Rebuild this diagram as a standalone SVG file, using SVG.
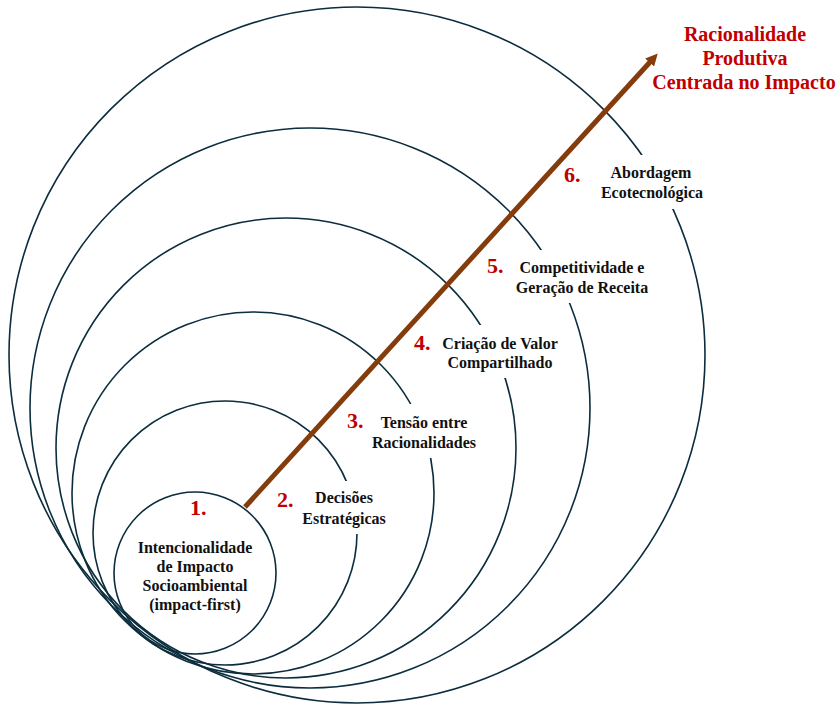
<svg xmlns="http://www.w3.org/2000/svg" width="838" height="704" viewBox="0 0 838 704">
<style>
.ring{fill:none;stroke:#0B2D3E;stroke-width:1.6}
.bg{fill:#ffffff}
.lbl{font-family:"Liberation Serif","Times New Roman",serif;font-weight:bold;font-size:16px;fill:#111111;text-anchor:middle}
.num{font-family:"Liberation Serif","Times New Roman",serif;font-weight:bold;font-size:22px;fill:#C00000}
.title{font-family:"Liberation Serif","Times New Roman",serif;font-weight:bold;font-size:20px;fill:#C00000;text-anchor:middle}
</style>
<defs>
<marker id="ah" viewBox="0 0 12 12" refX="2" refY="6" markerWidth="12" markerHeight="12" markerUnits="userSpaceOnUse" orient="auto">
<path d="M0,0 L12,6 L0,12 z" fill="#843C0C"/>
</marker>
</defs>
<rect width="838" height="704" fill="#ffffff"/>
<g id="rings">
<circle class="ring" cx="357" cy="355" r="348"/>
<circle class="ring" cx="310" cy="408" r="280"/>
<circle class="ring" cx="286" cy="448" r="230"/>
<circle class="ring" cx="253" cy="493" r="181"/>
<circle class="ring" cx="225" cy="533" r="132"/>
</g>
<g id="node1">
<circle class="ring" cx="195" cy="573" r="81"/>
<text class="num" x="190" y="515">1.</text>
<text class="lbl" x="195" y="553">Intencionalidade</text>
<text class="lbl" x="195" y="572">de Impacto</text>
<text class="lbl" x="195" y="591">Socioambiental</text>
<text class="lbl" x="195" y="610">(impact-first)</text>
</g>
<g id="node2">
<rect class="bg" x="275" y="481" width="117" height="53"/>
<text class="num" x="277" y="507">2.</text>
<text class="lbl" x="344" y="503">Decisões</text>
<text class="lbl" x="344" y="524">Estratégicas</text>
</g>
<g id="node3">
<rect class="bg" x="345" y="404" width="139" height="54"/>
<text class="num" x="347" y="428">3.</text>
<text class="lbl" x="424" y="428">Tensão entre</text>
<text class="lbl" x="424" y="448">Racionalidades</text>
</g>
<g id="node4">
<rect class="bg" x="412" y="325" width="154" height="53"/>
<text class="num" x="414" y="350">4.</text>
<text class="lbl" x="500" y="349">Criação de Valor</text>
<text class="lbl" x="500" y="368">Compartilhado</text>
</g>
<g id="node5">
<rect class="bg" x="485" y="250" width="173" height="53"/>
<text class="num" x="487" y="273">5.</text>
<text class="lbl" x="582" y="273">Competitividade e</text>
<text class="lbl" x="582" y="293">Geração de Receita</text>
</g>
<g id="node6">
<rect class="bg" x="560" y="155" width="152" height="54"/>
<text class="num" x="564" y="182">6.</text>
<text class="lbl" x="651" y="178">Abordagem</text>
<text class="lbl" x="652" y="198">Ecotecnológica</text>
</g>
<g id="connectors">
<line x1="245" y1="507" x2="651" y2="61" stroke="#843C0C" stroke-width="5" marker-end="url(#ah)"/>
</g>
<g id="title">
<text class="title" x="745" y="41">Racionalidade</text>
<text class="title" x="745" y="65">Produtiva</text>
<text class="title" x="744" y="89">Centrada no Impacto</text>
</g>
</svg>
